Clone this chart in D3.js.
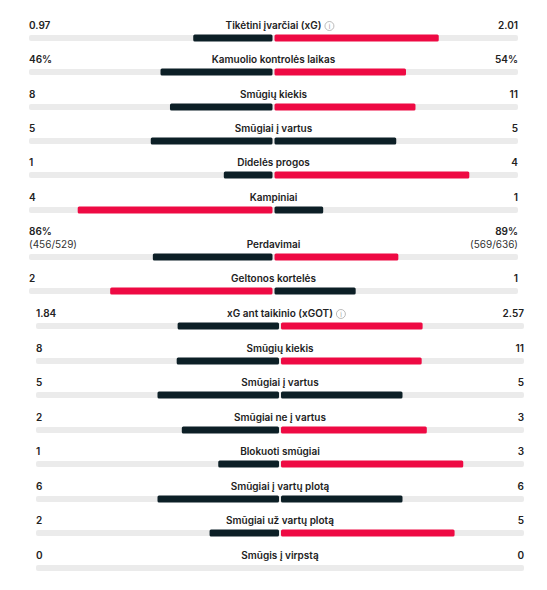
<!DOCTYPE html>
<html><head><meta charset="utf-8">
<script src="https://cdn.jsdelivr.net/npm/d3@7"></script>
<style>body{margin:0;background:#fff;font-family:Inter,"Noto Sans",sans-serif}</style>
</head><body><svg></svg>
<script>
let labels = ["Tikėtini įvarčiai (xG)", "Kamuolio kontrolės laikas", "Smūgių kiekis", "Smūgiai į vartus",
  "Didelės progos", "Kampiniai", "Perdavimai", "Geltonos kortelės",
  "xG ant taikinio (xGOT)", "Smūgių kiekis", "Smūgiai į vartus", "Smūgiai ne į vartus",
  "Blokuoti smūgiai", "Smūgiai į vartų plotą", "Smūgiai už vartų plotą", "Smūgis į virpstą"];
let homeValues = [0.97, 46, 8, 5, 1, 4, 86, 2, 1.84, 8, 5, 2, 1, 6, 2, 0];
let awayValues = [2.01, 54, 11, 5, 4, 1, 89, 1, 2.57, 11, 5, 3, 3, 6, 5, 0];
let homeText = ["0.97", "46%", "8", "5", "1", "4", "86%", "2", "1.84", "8", "5", "2", "1", "6", "2", "0"];
let awayText = ["2.01", "54%", "11", "5", "4", "1", "89%", "1", "2.57", "11", "5", "3", "3", "6", "5", "0"];
let homeSub = {6: "(456/529)"};
let awaySub = {6: "(569/636)"};
let infoIcon = [0, 8];
let labelY = [26, 60, 95, 129, 163, 198, 245, 279, 314, 349, 383, 418, 452, 487, 521, 556];

let width = 547, height = 590;
let dark = "#0c1f26", red = "#ee0a43", track = "#ebebeb";

let svg = d3.select("svg").attr("width", width).attr("height", height);

labels.forEach((lab, i) => {
  let second = i >= 8;
  let left = second ? 36 : 29, right = second ? 524 : 518;
  let mid = (left + right) / 2;
  let h = homeValues[i], a = awayValues[i];
  let total = h + a;
  let half = (right - left) / 2 - 1;
  let s = d3.scaleLinear().domain([0, total || 1]).range([0, half]);
  let y = labelY[i], by = y + 9;
  let g = svg.append("g");

  g.append("rect").attr("x", left).attr("y", by).attr("width", right - left).attr("height", 6)
    .attr("rx", 2).attr("fill", track);
  let hc = h > a ? red : dark, ac = a > h ? red : dark;
  if (h > 0) g.append("rect").attr("x", mid - 1 - s(h)).attr("y", by - 0.5).attr("width", s(h))
    .attr("height", 7).attr("rx", 1.5).attr("fill", hc);
  if (a > 0) g.append("rect").attr("x", mid + 1).attr("y", by - 0.5).attr("width", s(a))
    .attr("height", 7).attr("rx", 1.5).attr("fill", ac);

  let t = g.append("text").attr("x", mid).attr("y", y + 3).attr("text-anchor", "middle")
    .attr("font-size", 10).attr("font-weight", 600).attr("fill", "#222").text(lab);
  if (infoIcon.includes(i)) {
    let w = t.node().getComputedTextLength();
    let cx = mid + w / 2 + 8;
    g.append("circle").attr("cx", cx).attr("cy", y).attr("r", 4.5).attr("fill", "none")
      .attr("stroke", "#aaa").attr("stroke-width", 0.8);
    g.append("text").attr("x", cx).attr("y", y + 2.5).attr("text-anchor", "middle")
      .attr("font-size", 6.5).attr("fill", "#999").text("i");
  }
  let ny = homeSub[i] ? y - 13 : y;
  g.append("text").attr("x", left).attr("y", ny + 3).attr("font-size", 10).attr("font-weight", 600)
    .attr("fill", "#222").text(homeText[i]);
  g.append("text").attr("x", right).attr("y", ny + 3).attr("text-anchor", "end").attr("font-size", 10)
    .attr("font-weight", 600).attr("fill", "#222").text(awayText[i]);
  if (homeSub[i]) {
    g.append("text").attr("x", left).attr("y", y + 3).attr("font-size", 10).attr("fill", "#333").text(homeSub[i]);
    g.append("text").attr("x", right).attr("y", y + 3).attr("text-anchor", "end").attr("font-size", 10)
      .attr("fill", "#333").text(awaySub[i]);
  }
});
</script></body></html>
